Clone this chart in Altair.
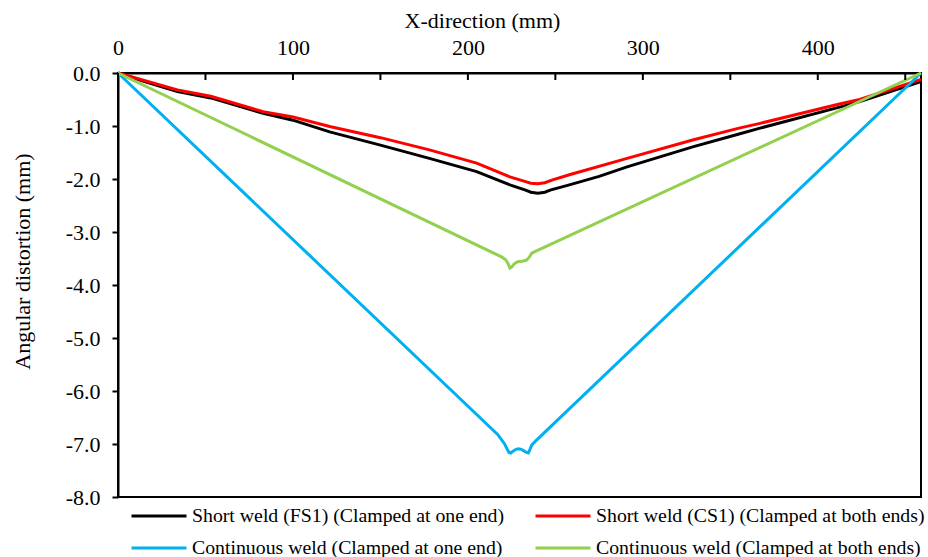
import altair as alt
import pandas as pd

# Series names and colours
series_names = [
    "Short weld (FS1) (Clamped at one end)",
    "Short weld (CS1) (Clamped at both ends)",
    "Continuous weld (Clamped at one end)",
    "Continuous weld (Clamped at both ends)",
]
series_colors = ["#000000", "#FF0000", "#00B0F0", "#92D050"]

# Short weld FS1, clamped at one end
fs1_x = [0, 17, 34, 53, 83, 100, 121, 150, 178, 205, 224, 233, 236, 240, 244,
         247, 258, 275, 291, 329, 355, 367, 413, 424, 459]
fs1_y = [0, -0.18, -0.35, -0.47, -0.76, -0.89, -1.11, -1.36, -1.61, -1.86, -2.11,
         -2.21, -2.25, -2.27, -2.25, -2.21, -2.11, -1.95, -1.77, -1.39, -1.15,
         -1.04, -0.64, -0.54, -0.16]

# Short weld CS1, clamped at both ends
cs1_x = [0, 17, 34, 53, 83, 100, 121, 150, 178, 205, 224, 233, 236, 240, 244,
         248, 258, 291, 329, 355, 367, 413, 424, 459]
cs1_y = [0, -0.16, -0.32, -0.44, -0.73, -0.83, -1.01, -1.22, -1.45, -1.70, -1.96,
         -2.05, -2.08, -2.09, -2.07, -2.02, -1.92, -1.61, -1.26, -1.04, -0.95,
         -0.58, -0.50, -0.12]

# Continuous weld, clamped at one end
cont1_x = [0, 217, 219.5, 221, 222.5, 223.5, 224.5, 226, 227.5, 229, 230.5, 232,
           233.5, 234.5, 235.5, 236.5, 238.5, 459]
cont1_y = [0, -6.82, -6.93, -7.00, -7.10, -7.16, -7.17, -7.13, -7.10, -7.09,
           -7.10, -7.13, -7.16, -7.17, -7.10, -7.02, -6.95, 0]

# Continuous weld, clamped at both ends
cont2_x = [0, 219.2, 221.5, 223, 224, 225, 226.5, 228.5, 231, 233.5, 235, 236.5,
           238.3, 459]
cont2_y = [0, -3.47, -3.52, -3.60, -3.68, -3.66, -3.60, -3.56, -3.55, -3.53,
           -3.48, -3.40, -3.37, 0]

# Axis ticks
x_labels = [0, 100, 200, 300, 400]
x_ticks = [0, 50, 100, 150, 200, 250, 300, 350, 400, 450]
y_ticks = [-8, -7, -6, -5, -4, -3, -2, -1, 0]

rows = []
for k, (name, xs, ys) in enumerate(zip(series_names,
                                       [fs1_x, cs1_x, cont1_x, cont2_x],
                                       [fs1_y, cs1_y, cont1_y, cont2_y])):
    for xv, yv in zip(xs, ys):
        rows.append({"series": name, "x": xv, "y": yv, "k": k})
df = pd.DataFrame(rows)

FONT = "Liberation Serif"

x_scale = alt.Scale(domain=[0, 459], nice=False, zero=False)
y_scale = alt.Scale(domain=[-8, 0], nice=False)

x_axis = alt.Axis(orient="top", values=x_labels, tickSize=0, labelPadding=14,
                  labelFlush=False,
                  title="X-direction (mm)", titleX=364, titleY=-53,
                  titleAlign="center", titleBaseline="middle", grid=False)

lines = alt.Chart(df).mark_line(strokeWidth=3).encode(
    x=alt.X("x:Q", scale=x_scale, axis=x_axis),
    y=alt.Y("y:Q", scale=y_scale,
            axis=alt.Axis(values=y_ticks, tickSize=6, tickWidth=2,
                          labelPadding=12, labelFlush=False,
                          labelExpr="replace(format(datum.value, '.1f'), '\u2212', '-')",
                          title="Angular distortion (mm)", titleX=-96, titleY=188,
                          titleAngle=-90, titleAlign="center",
                          titleBaseline="middle", grid=False)),
    color=alt.Color("series:N",
                    scale=alt.Scale(domain=series_names, range=series_colors),
                    legend=alt.Legend(orient="none", legendX=12, legendY=433,
                                      direction="horizontal", columns=2,
                                      columnPadding=29, rowPadding=12,
                                      clipHeight=20,
                                      symbolType="stroke", symbolSize=3025,
                                      symbolStrokeWidth=3, labelOffset=4,
                                      labelFontSize=19.8, labelLimit=0,
                                      title=None)),
    detail="k:N",
)

# Inward tick marks along the top axis
tick_marks = alt.Chart(pd.DataFrame({"x": x_ticks})).mark_rule(
    color="black", strokeWidth=2
).encode(
    x=alt.X("x:Q", scale=x_scale, axis=x_axis),
    y=alt.value(0),
    y2=alt.value(7),
)

chart = alt.layer(lines, tick_marks).properties(
    width=803,
    height=424,
    autosize=alt.AutoSizeParams(type="none"),
    padding={"left": 118, "top": 73, "right": 7, "bottom": 60},
).configure(
    font=FONT,
).configure_view(
    stroke="black", strokeWidth=2,
).configure_axis(
    domainColor="black", domainWidth=2, tickColor="black",
    labelFont=FONT, labelFontSize=22, labelColor="black",
    titleFont=FONT, titleFontSize=22, titleFontWeight="normal", titleColor="black",
).configure_legend(
    labelFont=FONT, labelColor="black",
)

chart.save("out.html", embed_options={"renderer": "svg", "actions": False})
